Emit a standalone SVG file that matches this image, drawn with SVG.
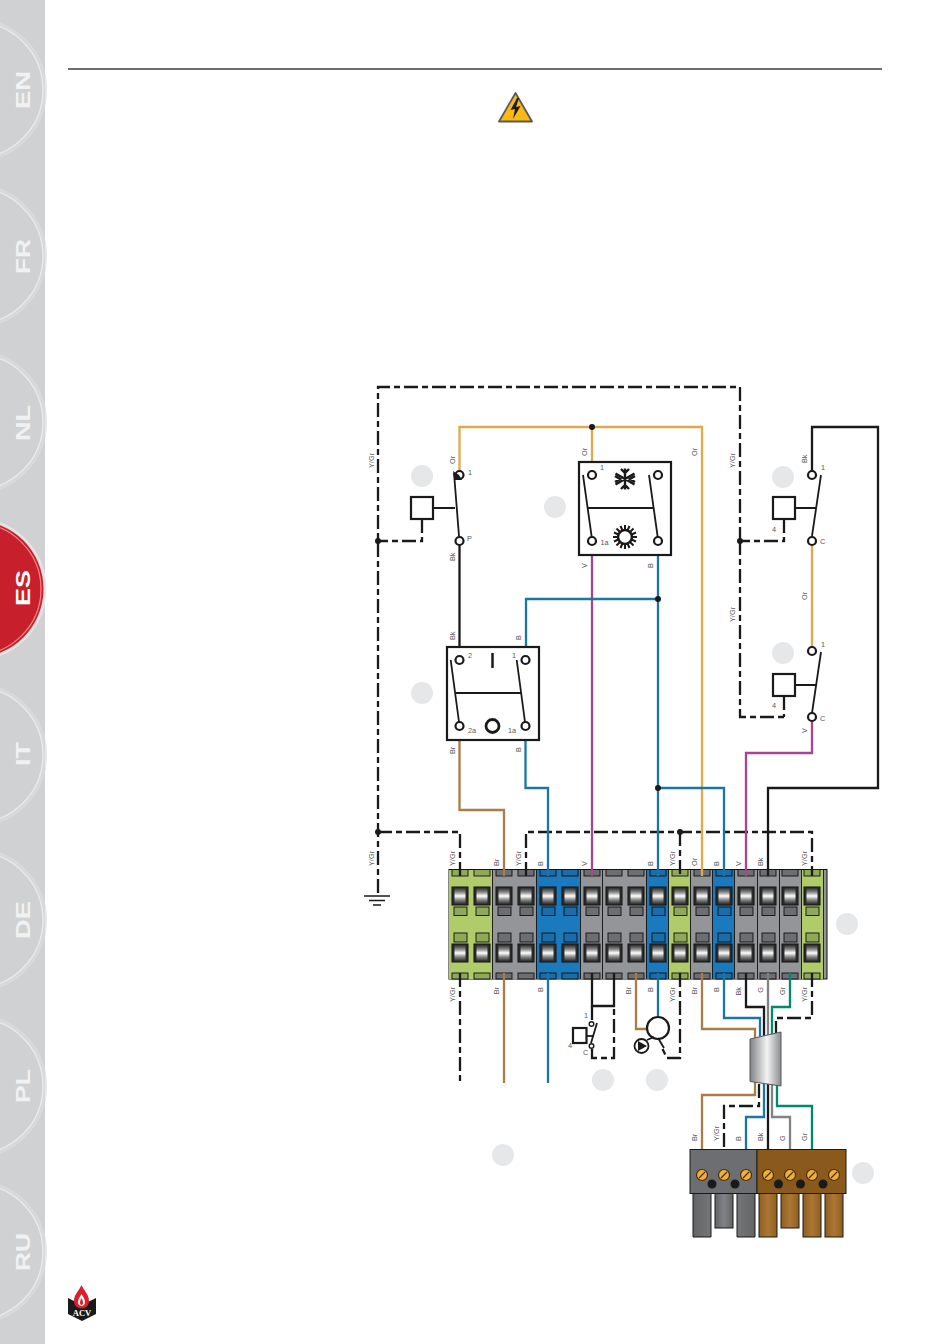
<svg xmlns="http://www.w3.org/2000/svg" xmlns:xlink="http://www.w3.org/1999/xlink" width="950" height="1344" viewBox="0 0 950 1344">
<style>
.w{fill:none;stroke-width:2.300;stroke-linejoin:miter}
.k{stroke:#1a1a1a}.or{stroke:#e0a94e}.br{stroke:#a97c48}.b{stroke:#1b75a6}.v{stroke:#a8458f}.gn{stroke:#00896c}.g{stroke:#808285}
.d{fill:none;stroke:#1a1a1a;stroke-width:2.300;stroke-dasharray:14 4 6 4}
.lb{font-family:"Liberation Sans",Arial,sans-serif;font-size:7.300px;fill:#58595b}
.e{text-anchor:end}
.tab{font-family:"Liberation Sans",Arial,sans-serif;font-weight:bold;font-size:20px;fill:#f1f1f2}
.ref{fill:#e6e7e8}
.box{fill:#fff;stroke:#1a1a1a;stroke-width:2.200}
.t{fill:#fff;stroke:#1a1a1a;stroke-width:2.200}
.arm{fill:none;stroke:#1a1a1a;stroke-width:1.800}
.gy{fill:#939598}.bl{fill:#1b79bd}.gr{fill:#afcb6a}
.tg{fill:#6d6e71}.tb{fill:#1b6ca8}.tn{fill:#8fa85a}
.sc{fill:#eeb135;stroke:#4a2a10;stroke-width:1.200}
.dot{fill:#1a1a1a}
</style>
<defs>
<linearGradient id="roll" x1="0" y1="0" x2="0" y2="1"><stop offset="0" stop-color="#222"/><stop offset=".28" stop-color="#8a8a8a"/><stop offset=".5" stop-color="#fff"/><stop offset=".72" stop-color="#8a8a8a"/><stop offset="1" stop-color="#222"/></linearGradient>
<linearGradient id="cab" x1="0" y1="0" x2="1" y2="0"><stop offset="0" stop-color="#808285"/><stop offset=".55" stop-color="#f4f4f4"/><stop offset="1" stop-color="#8a8c8e"/></linearGradient>
<linearGradient id="legG" x1="0" y1="0" x2="1" y2="0"><stop offset="0" stop-color="#636466"/><stop offset=".5" stop-color="#808285"/><stop offset="1" stop-color="#636466"/></linearGradient>
<linearGradient id="legB" x1="0" y1="0" x2="1" y2="0"><stop offset="0" stop-color="#8f5f22"/><stop offset=".5" stop-color="#ab7733"/><stop offset="1" stop-color="#8f5f22"/></linearGradient>
<g id="slot" stroke="#111" stroke-width=".9">
<rect x="-8" y="869.5" width="16" height="6.5"/>
<rect x="-8" y="887" width="16" height="18" fill="#333" stroke-width="1"/>
<rect x="-6" y="887.5" width="12" height="17" fill="url(#roll)" stroke="#222"/>
<rect x="-6" y="907" width="13" height="8.500"/>
<rect x="-6" y="933" width="13" height="9"/>
<rect x="-8" y="944" width="16" height="18" fill="#333" stroke-width="1"/>
<rect x="-6" y="944.5" width="12" height="17" fill="url(#roll)" stroke="#222"/>
<rect x="-8" y="973" width="16" height="6"/>
</g>
<g id="ring"><circle cx="-25" cy="0" r="70.500" fill="none" stroke="#dcddde" stroke-width="3" opacity=".7"/><circle cx="-25" cy="0" r="68" fill="none" stroke="#e9eaeb" stroke-width="1.500"/></g>
</defs>
<g id="sidebar">
<rect x="0" y="0" width="45" height="1344" fill="#cfd1d3"/>
<rect x="45" y="0" width="905" height="1344" fill="#fff"/>
<use xlink:href="#ring" href="#ring" y="90"/><use xlink:href="#ring" href="#ring" y="256"/><use xlink:href="#ring" href="#ring" y="422"/>
<use xlink:href="#ring" href="#ring" y="755"/><use xlink:href="#ring" href="#ring" y="920"/><use xlink:href="#ring" href="#ring" y="1086"/><use xlink:href="#ring" href="#ring" y="1252"/>
<circle cx="-25" cy="589" r="70.500" fill="#dfe0e2" stroke="#e4e5e6" stroke-width="1.500"/>
<circle cx="-25" cy="589" r="68.500" fill="#c7202c"/>
<circle cx="-25" cy="589" r="66" fill="none" stroke="#ef8a8a" stroke-width="1.200"/>
<text class="tab" transform="translate(30,109) rotate(-90)" textLength="38" lengthAdjust="spacingAndGlyphs">EN</text>
<text class="tab" transform="translate(30,274) rotate(-90)" textLength="35" lengthAdjust="spacingAndGlyphs">FR</text>
<text class="tab" transform="translate(30,441) rotate(-90)" textLength="36" lengthAdjust="spacingAndGlyphs">NL</text>
<text class="tab" transform="translate(30,606) rotate(-90)" textLength="36" lengthAdjust="spacingAndGlyphs" style="fill:#fff">ES</text>
<text class="tab" transform="translate(30,766) rotate(-90)" textLength="24" lengthAdjust="spacingAndGlyphs">IT</text>
<text class="tab" transform="translate(30,939) rotate(-90)" textLength="38" lengthAdjust="spacingAndGlyphs">DE</text>
<text class="tab" transform="translate(30,1103) rotate(-90)" textLength="34" lengthAdjust="spacingAndGlyphs">PL</text>
<text class="tab" transform="translate(30,1271) rotate(-90)" textLength="38" lengthAdjust="spacingAndGlyphs">RU</text>
</g>
<g id="header">
<line x1="68" y1="69" x2="882" y2="69" stroke="#6d6e71" stroke-width="1.800"/>
<path d="M515.500 93L532 121.500H499Z" fill="#fdb913" stroke="#58595b" stroke-width="1.800" stroke-linejoin="round"/>
<path d="M517 98L510.500 110L515 109L513 119L520.500 106L516 107L519 98Z" fill="#1a1a1a"/>
</g>
<g id="logo">
<path d="M68 1298L76 1302H88L96 1298V1314L82 1321L68 1314Z" fill="#1a1a1a"/>
<path d="M81.500 1285C84 1291 89 1294 89 1301C89 1305 86 1308.500 81.500 1308.500C77 1308.500 74 1305 74 1301C74 1294 79 1291 81.500 1285Z" fill="#d9202c"/>
<path d="M81.500 1294C83 1297 85 1299 85 1302C85 1304.500 83.500 1306 81.500 1306C79.500 1306 78 1304.500 78 1302C78 1299 80 1297 81.500 1294Z" fill="#fff"/>
<path d="M81.500 1298C82.500 1300 83 1301 83 1303C83 1304 82.300 1305 81.500 1305C80.700 1305 80 1304 80 1303C80 1301 80.500 1300 81.500 1298Z" fill="#d9202c"/>
<text x="82" y="1316" text-anchor="middle" style="font-family:'Liberation Serif',serif;font-weight:bold;font-size:8.500px;fill:#fff">ACV</text>
</g>
<g id="refs">
<circle class="ref" cx="422" cy="476" r="11"/><circle class="ref" cx="555" cy="507" r="11"/><circle class="ref" cx="783" cy="477" r="11"/><circle class="ref" cx="783" cy="653" r="11"/><circle class="ref" cx="422" cy="693" r="11"/><circle class="ref" cx="847" cy="924" r="11"/><circle class="ref" cx="603" cy="1080" r="11"/><circle class="ref" cx="657" cy="1080" r="11"/><circle class="ref" cx="503" cy="1155" r="11"/><circle class="ref" cx="863" cy="1173" r="11"/>
</g>
<g id="terminal-block">
<rect x="449" y="869.500" width="378" height="109.500" fill="#939598" stroke="#111" stroke-width="1"/>
<rect class="gr" x="449" y="870" width="43.500" height="109"/>
<rect class="gy" x="492.500" y="870" width="44" height="109"/>
<rect class="bl" x="536.500" y="870" width="44" height="109"/>
<rect class="gy" x="580.500" y="870" width="22" height="109"/>
<rect class="gy" x="602.500" y="870" width="44" height="109"/>
<rect class="bl" x="646.500" y="870" width="22" height="109"/>
<rect class="gr" x="668.500" y="870" width="22" height="109"/>
<rect class="gy" x="690.500" y="870" width="22" height="109"/>
<rect class="bl" x="712.500" y="870" width="22" height="109"/>
<rect class="gy" x="734.500" y="870" width="23" height="109"/>
<rect class="gy" x="757.500" y="870" width="22" height="109"/>
<rect class="gy" x="779.500" y="870" width="22" height="109"/>
<rect class="gr" x="801.500" y="870" width="22" height="109"/>
<path d="M492.500 870V979M536.500 870V979M580.500 870V979M602.500 870V979M646.500 870V979M668.500 870V979M690.500 870V979M712.500 870V979M734.500 870V979M757.500 870V979M779.500 870V979M801.500 870V979M823.500 870V979" stroke="#111" stroke-width=".9"/>
<use xlink:href="#slot" href="#slot" x="460" class="tn"/><use xlink:href="#slot" href="#slot" x="482" class="tn"/>
<use xlink:href="#slot" href="#slot" x="504" class="tg"/><use xlink:href="#slot" href="#slot" x="526" class="tg"/>
<use xlink:href="#slot" href="#slot" x="548" class="tb"/><use xlink:href="#slot" href="#slot" x="570" class="tb"/>
<use xlink:href="#slot" href="#slot" x="592" class="tg"/><use xlink:href="#slot" href="#slot" x="614" class="tg"/><use xlink:href="#slot" href="#slot" x="636" class="tg"/>
<use xlink:href="#slot" href="#slot" x="658" class="tb"/><use xlink:href="#slot" href="#slot" x="680" class="tn"/>
<use xlink:href="#slot" href="#slot" x="702" class="tg"/><use xlink:href="#slot" href="#slot" x="724" class="tb"/>
<use xlink:href="#slot" href="#slot" x="746" class="tg"/><use xlink:href="#slot" href="#slot" x="768" class="tg"/><use xlink:href="#slot" href="#slot" x="790" class="tg"/>
<use xlink:href="#slot" href="#slot" x="812" class="tn"/>
</g>
<g id="connectors">
<path class="d" d="M740 541V387H378V893"/>
<path class="d" d="M740 541V717H784"/>
<path class="d" d="M784 696V717"/>
<path class="d" d="M784 519V541H740"/>
<path class="d" d="M422 519V541H378"/>
<path class="d" d="M378 832H460V876"/>
<path class="d" d="M526 876V832H812V876"/>
<path class="d" d="M680 832V876"/>
<path class="w or" d="M459.500 471V427H702V876"/>
<path class="w or" d="M592 427V471"/>
<path class="w v" d="M592 545V876"/>
<path class="w b" d="M658 545V876"/>
<path class="w b" d="M658 599H526V656"/>
<path class="w k" d="M459.500 545V656"/>
<path class="w br" d="M459.500 730V810H504V876"/>
<path class="w b" d="M525.500 730V788H548V876"/>
<path class="w b" d="M658 788H724V876"/>
<path class="w or" d="M812 545V647"/>
<path class="w v" d="M812 721V753H746V876"/>
<path class="w k" d="M812 471V427H878V788H768V876"/>
<path class="d" d="M460 973V1083"/>
<path class="w br" d="M504 973V1083"/>
<path class="w b" d="M548 973V1083"/>
<path class="w k" d="M592 973V1006H614V973"/>
<path class="d" d="M592 1006V1021"/>
<path class="d" d="M592 1049V1058H614V1006"/>
<path class="w br" d="M636 973V1029H647"/>
<path class="w b" d="M658 973V1017"/>
<path class="d" d="M680 973V1058H667L661 1046"/>
<path class="w br" d="M702 973V1029H755V1040"/>
<path class="w b" d="M724 973V1018H760V1040"/>
<path class="w k" d="M746 973V1007H764V1040"/>
<path class="w g" d="M768 973V1040"/>
<path class="w gn" d="M790 973V1007H772V1040"/>
<path class="d" d="M812 973V1018H776V1036"/>
<path class="w br" d="M755 1082V1095H702V1149"/>
<path class="d" d="M759 1084V1106H724V1149"/>
<path class="w b" d="M764 1084V1117H746V1149"/>
<path class="w k" d="M768 1084V1149"/>
<path class="w g" d="M772 1084V1117H790V1149"/>
<path class="w gn" d="M777 1084V1106H812V1149"/>
<circle class="dot" cx="378" cy="541" r="3"/><circle class="dot" cx="740" cy="541" r="3"/><circle class="dot" cx="378" cy="832" r="3"/><circle class="dot" cx="680" cy="832" r="3"/><circle class="dot" cx="592" cy="427" r="3"/><circle class="dot" cx="658" cy="599" r="3"/><circle class="dot" cx="658" cy="788" r="3"/>
</g>
<g id="ground"><path d="M364 896H390M369 900.500H385M373 905H381" fill="none" stroke="#1a1a1a" stroke-width="1.600"/></g>
<g id="thermostat-left">
<rect class="box" x="411" y="497" width="22" height="22"/>
<path class="arm" d="M433 508H455" style="stroke-width:2"/>
<path class="arm" d="M454 473L459 536"/>
<circle class="t" cx="459.500" cy="475" r="4"/>
<path d="M453 471L459 475L462 480H455Z" fill="#1a1a1a"/>
<circle class="t" cx="459.500" cy="541" r="4"/>
<text class="lb" x="468" y="475">1</text><text class="lb" x="467" y="541">P</text>
</g>
<g id="switch-season">
<rect class="box" x="579" y="462" width="92" height="93"/>
<path class="arm" d="M583 475L591.700 537M649 475L657.700 537"/>
<path d="M587.500 508H653" fill="none" stroke="#1a1a1a" stroke-width="2"/>
<circle class="t" cx="592" cy="475" r="4"/><circle class="t" cx="658" cy="475" r="4"/><circle class="t" cx="592" cy="541" r="4"/><circle class="t" cx="658" cy="541" r="4"/>
<g fill="none" stroke="#1a1a1a" stroke-width="2.400">
<path d="M625 468.500V489.500M615.500 473.500L634.500 484.500M615.500 484.500L634.500 473.500M621 469L625 473L629 469M621 489L625 485L629 489M615 476L620 479L615 482M635 476L630 479L635 482"/>
</g>
<circle cx="625" cy="537" r="7" fill="#fff" stroke="#1a1a1a" stroke-width="2.600"/>
<path d="M625 525V530M625 544V549M613 537H618M632 537H637M616.500 528.500L620 532M630 542L633.500 545.500M616.500 545.500L620 542M630 532L633.500 528.500M620.500 526L622.500 530.500M629.500 526L627.500 530.500M620.500 548L622.500 543.500M629.500 548L627.500 543.500M614 532.500L618.500 534.500M636 532.500L631.500 534.500M614 541.500L618.500 539.500M636 541.500L631.500 539.500" stroke="#1a1a1a" stroke-width="2" fill="none"/>
<text class="lb" x="600" y="470">1</text><text class="lb" x="600.500" y="545">1a</text>
</g>
<g id="switch-main">
<rect class="box" x="447" y="647" width="92" height="93"/>
<path class="arm" d="M450.700 660L459 722M516.700 660L525 722"/>
<path d="M456 693H521" fill="none" stroke="#1a1a1a" stroke-width="2"/>
<path d="M492.500 653V668" stroke="#1a1a1a" stroke-width="2.500"/>
<circle cx="492.500" cy="726" r="6.500" fill="#fff" stroke="#1a1a1a" stroke-width="2.800"/>
<circle class="t" cx="459.500" cy="660" r="4"/><circle class="t" cx="525.500" cy="660" r="4"/><circle class="t" cx="459.500" cy="726" r="4"/><circle class="t" cx="525.500" cy="726" r="4"/>
<text class="lb" x="468" y="658">2</text><text class="lb" x="512" y="658">1</text><text class="lb" x="468" y="733">2a</text><text class="lb" x="508" y="733">1a</text>
</g>
<g id="thermostat-right-1">
<rect class="box" x="773" y="497" width="22" height="22"/>
<path d="M795 508H816" stroke="#1a1a1a" stroke-width="2"/>
<path class="arm" d="M821 475L812 536"/>
<circle class="t" cx="812" cy="475" r="4"/><circle class="t" cx="812" cy="541" r="4"/>
<text class="lb" x="821" y="470">1</text><text class="lb" x="820" y="544">C</text><text class="lb" x="772" y="532">4</text>
</g>
<g id="thermostat-right-2">
<rect class="box" x="773" y="674" width="22" height="22"/>
<path d="M795 685H816" stroke="#1a1a1a" stroke-width="2"/>
<path class="arm" d="M821 652L812 713"/>
<circle class="t" cx="812" cy="651" r="4"/><circle class="t" cx="812" cy="717" r="4"/>
<text class="lb" x="821" y="647">1</text><text class="lb" x="820" y="721">C</text><text class="lb" x="772" y="708">4</text>
</g>
<g id="thermostat-low">
<rect class="box" x="573" y="1028" width="13.500" height="15"/>
<path d="M586.500 1036H594" stroke="#1a1a1a" stroke-width="1.800"/>
<path class="arm" d="M597 1023L591 1043"/>
<circle class="t" cx="591.500" cy="1024" r="2.300" style="stroke-width:1.400"/><circle class="t" cx="591.500" cy="1046" r="2.300" style="stroke-width:1.400"/>
<text class="lb" x="584" y="1018">1</text><text class="lb" x="568" y="1048">4</text><text class="lb" x="583" y="1055">C</text>
</g>
<g id="pump">
<circle cx="658" cy="1028" r="11" fill="#fff" stroke="#1a1a1a" stroke-width="2.200"/>
<path d="M658 1038L664 1048M647 1040L654 1037" stroke="#1a1a1a" stroke-width="1.800" fill="none"/>
<circle cx="641.500" cy="1046" r="7" fill="#fff" stroke="#1a1a1a" stroke-width="1.800"/>
<path d="M638 1041L647 1046L638 1051Z" fill="#1a1a1a"/>
</g>
<g id="cable">
<path d="M750 1039L781 1032V1086L750 1081.500Z" fill="url(#cab)" stroke="#58595b" stroke-width="1"/>
</g>
<g id="connector-plug">
<path d="M693 1193H711V1237H693ZM737 1193H755V1237H737Z" fill="url(#legG)" stroke="#1a1a1a" stroke-width="1"/>
<rect x="715" y="1193" width="18" height="35" fill="url(#legG)" stroke="#1a1a1a" stroke-width="1"/>
<rect x="759" y="1193" width="18" height="44" fill="url(#legB)" stroke="#1a1a1a" stroke-width="1"/>
<rect x="781" y="1193" width="18" height="35" fill="url(#legB)" stroke="#1a1a1a" stroke-width="1"/>
<rect x="803" y="1193" width="18" height="44" fill="url(#legB)" stroke="#1a1a1a" stroke-width="1"/>
<rect x="825" y="1193" width="18" height="44" fill="url(#legB)" stroke="#1a1a1a" stroke-width="1"/>
<rect x="690" y="1149.500" width="67" height="44" fill="#6d6e71" stroke="#1a1a1a" stroke-width="1"/>
<rect x="757" y="1149.500" width="89" height="44" fill="#8a5a1c" stroke="#1a1a1a" stroke-width="1"/>
<circle class="dot" cx="712" cy="1184" r="4.500"/><circle class="dot" cx="735" cy="1184" r="4.500"/><circle class="dot" cx="778.500" cy="1184" r="4.500"/><circle class="dot" cx="800.500" cy="1184" r="4.500"/><circle class="dot" cx="823" cy="1184" r="4.500"/>
<g class="sc">
<circle cx="702" cy="1175" r="5.500"/><circle cx="724" cy="1175" r="5.500"/><circle cx="746" cy="1175" r="5.500"/><circle cx="768" cy="1175" r="5.500"/><circle cx="790" cy="1175" r="5.500"/><circle cx="812" cy="1175" r="5.500"/><circle cx="834" cy="1175" r="5.500"/>
</g>
<path d="M699 1178L705 1172M721 1178L727 1172M743 1178L749 1172M765 1178L771 1172M787 1178L793 1172M809 1178L815 1172M831 1178L837 1172" stroke="#4a2a10" stroke-width="1.200"/>
</g>
<g id="labels">
<text class="lb" transform="translate(374,468) rotate(-90)">Y/Gr</text>
<text class="lb" transform="translate(374,866) rotate(-90)">Y/Gr</text>
<text class="lb" transform="translate(735,468) rotate(-90)">Y/Gr</text>
<text class="lb" transform="translate(735,622) rotate(-90)">Y/Gr</text>
<text class="lb" transform="translate(455,464) rotate(-90)">Or</text>
<text class="lb" transform="translate(455,561) rotate(-90)">Bk</text>
<text class="lb" transform="translate(455,640) rotate(-90)">Bk</text>
<text class="lb" transform="translate(521,640) rotate(-90)">B</text>
<text class="lb" transform="translate(455,754) rotate(-90)">Br</text>
<text class="lb" transform="translate(521,752) rotate(-90)">B</text>
<text class="lb" transform="translate(587,456) rotate(-90)">Or</text>
<text class="lb" transform="translate(587,568) rotate(-90)">V</text>
<text class="lb" transform="translate(653,568) rotate(-90)">B</text>
<text class="lb" transform="translate(697,456) rotate(-90)">Or</text>
<text class="lb" transform="translate(807,463) rotate(-90)">Bk</text>
<text class="lb" transform="translate(807,600) rotate(-90)">Or</text>
<text class="lb" transform="translate(807,733) rotate(-90)">V</text>
<text class="lb" transform="translate(455,866) rotate(-90)">Y/Gr</text>
<text class="lb" transform="translate(499,866) rotate(-90)">Br</text>
<text class="lb" transform="translate(521,866) rotate(-90)">Y/Gr</text>
<text class="lb" transform="translate(543,866) rotate(-90)">B</text>
<text class="lb" transform="translate(587,866) rotate(-90)">V</text>
<text class="lb" transform="translate(653,866) rotate(-90)">B</text>
<text class="lb" transform="translate(675,866) rotate(-90)">Y/Gr</text>
<text class="lb" transform="translate(697,866) rotate(-90)">Or</text>
<text class="lb" transform="translate(719,866) rotate(-90)">B</text>
<text class="lb" transform="translate(741,866) rotate(-90)">V</text>
<text class="lb" transform="translate(763,866) rotate(-90)">Bk</text>
<text class="lb" transform="translate(807,866) rotate(-90)">Y/Gr</text>
<text class="lb e" transform="translate(455,987) rotate(-90)">Y/Gr</text>
<text class="lb e" transform="translate(499,987) rotate(-90)">Br</text>
<text class="lb e" transform="translate(543,987) rotate(-90)">B</text>
<text class="lb e" transform="translate(631,987) rotate(-90)">Br</text>
<text class="lb e" transform="translate(653,987) rotate(-90)">B</text>
<text class="lb e" transform="translate(675,987) rotate(-90)">Y/Gr</text>
<text class="lb e" transform="translate(697,987) rotate(-90)">Br</text>
<text class="lb e" transform="translate(719,987) rotate(-90)">B</text>
<text class="lb e" transform="translate(741,987) rotate(-90)">Bk</text>
<text class="lb e" transform="translate(763,987) rotate(-90)">G</text>
<text class="lb e" transform="translate(785,987) rotate(-90)">Gr</text>
<text class="lb e" transform="translate(807,987) rotate(-90)">Y/Gr</text>
<text class="lb" transform="translate(697,1141) rotate(-90)">Br</text>
<text class="lb" transform="translate(719,1141) rotate(-90)">Y/Gr</text>
<text class="lb" transform="translate(741,1141) rotate(-90)">B</text>
<text class="lb" transform="translate(763,1141) rotate(-90)">Bk</text>
<text class="lb" transform="translate(785,1141) rotate(-90)">G</text>
<text class="lb" transform="translate(807,1141) rotate(-90)">Gr</text>
</g>
</svg>
